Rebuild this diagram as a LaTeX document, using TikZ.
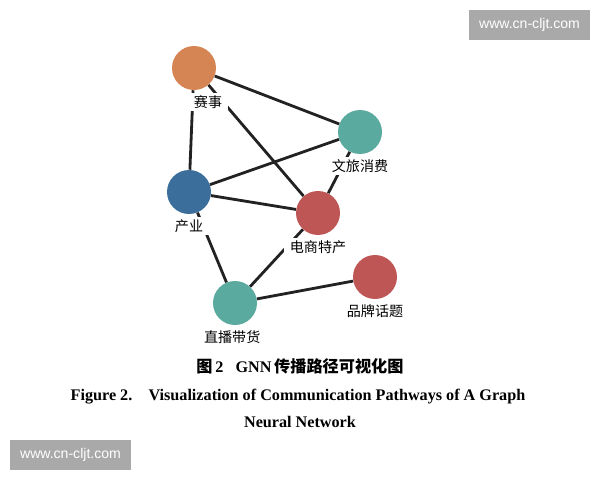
\documentclass[tikz,border=0pt]{standalone}
\usepackage{fontspec}
\setmainfont{Liberation Serif}
\newfontfamily\cjk{Noto Sans CJK SC}
\newfontfamily\webfont{Liberation Sans}
\usepackage{tikz}
\usetikzlibrary{positioning}
\definecolor{TopicOrange}{HTML}{D58553}
\definecolor{TopicTeal}{HTML}{5BAA9F}
\definecolor{TopicBlue}{HTML}{3B6E9B}
\definecolor{TopicRed}{HTML}{BE5656}
\definecolor{LinkGray}{HTML}{222222}
\definecolor{MarkGray}{HTML}{A9A9A9}
\tikzset{
  % Node styles
  topicnode/.style={circle, draw=none, minimum size=44*0.025cm, inner sep=0pt},
  tagbox/.style={rectangle, fill=white, inner xsep=4pt, inner ysep=2pt, font=\cjk\fontsize{10}{12}\selectfont},
  % Line styles
  link/.style={line width=2pt, LinkGray},
  % Text styles
  captext/.style={font=\bfseries\fontsize{11.5}{13}\selectfont, inner sep=0pt, anchor=base},
  markbox/.style={rectangle, fill=MarkGray, text=white, minimum width=121*0.025cm, minimum height=30*0.025cm, font=\webfont\fontsize{10}{12}\selectfont}
}
\begin{document}
\begin{tikzpicture}[x=0.025cm, y=-0.025cm]
  \useasboundingbox (0,0) rectangle (600,480);

  % Topic nodes
  \node[topicnode, fill=TopicOrange] (sai) at (194,68) {};
  \node[topicnode, fill=TopicTeal] (wenlv) at (360,132) {};
  \node[topicnode, fill=TopicBlue] (chanye) at (189,192) {};
  \node[topicnode, fill=TopicRed] (dianshang) at (318,213) {};
  \node[topicnode, fill=TopicRed] (pinpai) at (375,277) {};
  \node[topicnode, fill=TopicTeal] (zhibo) at (235,303) {};

  % Pathways
  \draw[link] (sai) -- (wenlv);
  \draw[link] (sai) -- (chanye);
  \draw[link] (sai) -- (dianshang);
  \draw[link] (chanye) -- (wenlv);
  \draw[link] (chanye) -- (dianshang);
  \draw[link] (wenlv) -- (dianshang);
  \draw[link] (chanye) -- (zhibo);
  \draw[link] (zhibo) -- (dianshang);
  \draw[link] (zhibo) -- (pinpai);

  % Labels
  \node[tagbox, below=1.5pt of sai, xshift=0.35cm] (saiL) {赛事};
  \node[tagbox, below=1.5pt of wenlv] (wenlvL) {文旅消费};
  \node[tagbox, below=1.5pt of chanye] (chanyeL) {产业};
  \node[tagbox, below=1.5pt of dianshang] (dianshangL) {电商特产};
  \node[tagbox, below=1.5pt of pinpai] (pinpaiL) {品牌话题};
  \node[tagbox, below=1.5pt of zhibo, xshift=-0.07cm] (zhiboL) {直播带货};

  % Caption
  \node[captext] (cap1) at (300,372) {{\cjk 图}\,2\hspace{0.75em}GNN\,{\cjk 传播路径可视化图}};
  \node[captext] (cap2) at (298,400) {Figure 2.\quad Visualization of Communication Pathways of A Graph};
  \node[captext] (cap3) at (300,427) {Neural Network};

  % Watermarks
  \node[markbox] (markTR) at (529.5,25) {www.cn-cljt.com};
  \node[markbox] (markBL) at (70.5,455) {www.cn-cljt.com};
\end{tikzpicture}
\end{document}
